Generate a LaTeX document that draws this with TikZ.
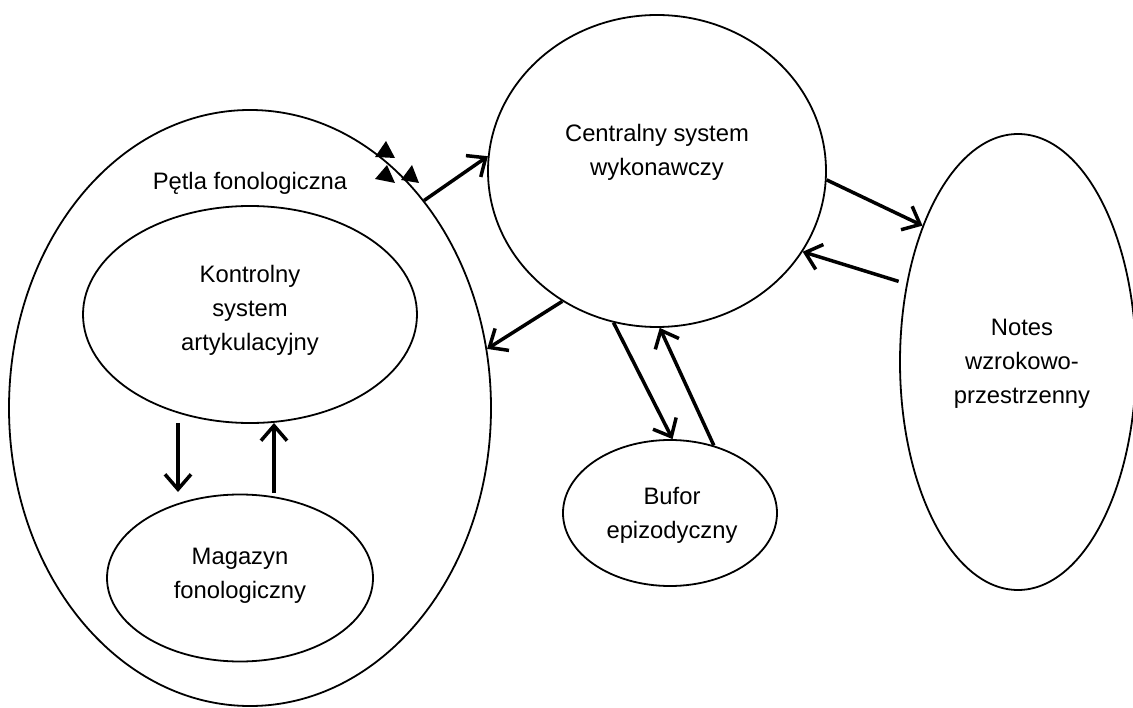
\documentclass[tikz,border=0pt]{standalone}
\usepackage{fontspec}
\setmainfont{Liberation Sans}
\usetikzlibrary{shapes.geometric,arrows.meta}
\begin{document}
\begin{tikzpicture}[x=1pt,y=-1pt,
  shapeell/.style={draw, ellipse, line width=1.8pt, inner sep=0pt},
  lbl/.style={align=center, font=\fontsize{23.8}{34}\selectfont, inner sep=0pt},
  arr/.style={line width=3.5pt, -{Straight Barb[length=15pt,width=26pt,line width=3.5pt]}},
  tri/.style={fill=black}]
\useasboundingbox (0,0) rectangle (1133,708);
% shapes
\node[shapeell, minimum width=482pt, minimum height=596pt] (petla) at (250,408) {};
\node[shapeell, minimum width=334pt, minimum height=217pt] (kont) at (250,314.5) {};
\node[shapeell, minimum width=266pt, minimum height=167pt] (mag) at (240,578) {};
\node[shapeell, minimum width=338pt, minimum height=312pt] (cent) at (657,171) {};
\node[shapeell, minimum width=236pt, minimum height=456pt] (notes) at (1018,362) {};
\node[shapeell, minimum width=214pt, minimum height=146pt] (bufor) at (670,513) {};
% texts
\node[lbl, anchor=base] (tpetla) at (250,190) {Pętla fonologiczna};
\node[lbl] (tkont) at (250,310) {Kontrolny\\system\\artykulacyjny};
\node[lbl] (tmag) at (240,576) {Magazyn\\fonologiczny};
\node[lbl] (tcent) at (657,152) {Centralny system\\wykonawczy};
\node[lbl] (tnotes) at (1022,364) {Notes\\wzrokowo-\\przestrzenny};
\node[lbl] (tbufor) at (672,515) {Bufor\\epizodyczny};
% small triangles
\fill[tri] (386,141) -- (395,158) -- (375,157) -- cycle;
\fill[tri] (387,165) -- (395,183) -- (375,179) -- cycle;
\fill[tri] (412,165) -- (419,183) -- (401,180) -- cycle;
% free points
\coordinate (k1) at (178,423);
\coordinate (m1) at (178,492);
\coordinate (m2) at (274,493);
\coordinate (k2) at (274,423);
% connectors
\draw[arr] (petla.50.8) -- (cent.175.9);
\draw[arr] (cent.234.3) -- (petla.14);
\draw[arr] (cent.254.6) -- (bufor.88.5);
\draw[arr] (bufor.57) -- (cent.-89.3);
\draw[arr] (cent.-3.7) -- (notes.125.8);
\draw[arr, shorten <=8pt] (notes.145) -- (cent.-29.9);
\draw[arr] (k1) -- (m1);
\draw[arr] (m2) -- (k2);
\end{tikzpicture}
\end{document}
